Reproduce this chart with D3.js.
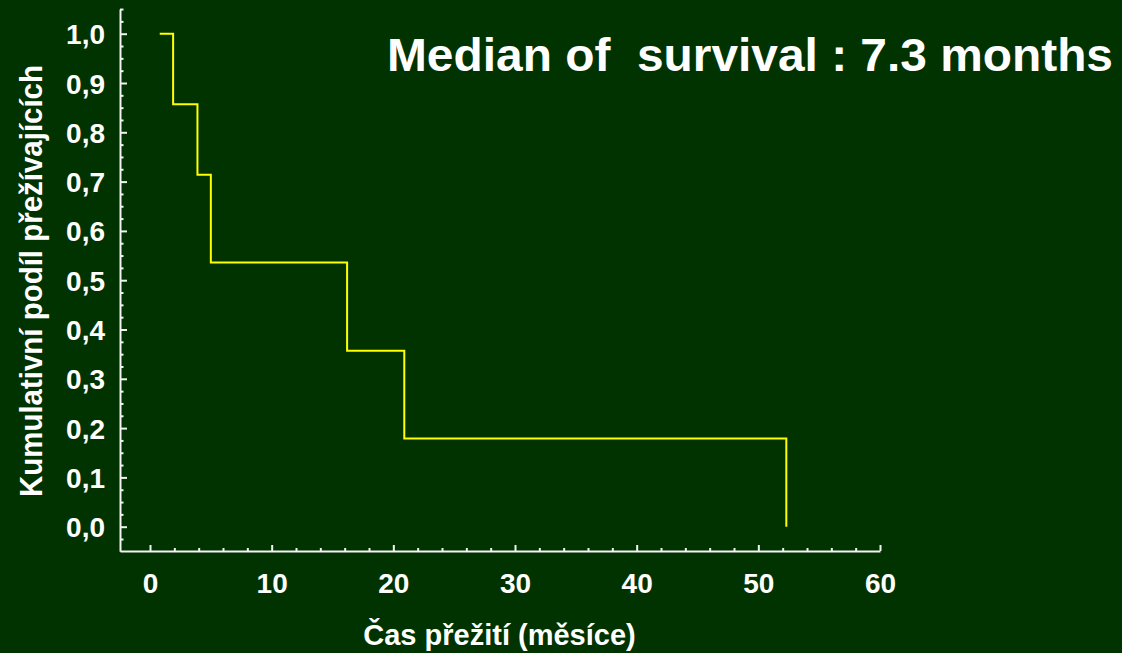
<!DOCTYPE html>
<html>
<head>
<meta charset="utf-8">
<script src="https://cdn.jsdelivr.net/npm/d3@7"></script>
<style>
  html, body { margin: 0; padding: 0; background: #003300; }
  svg { display: block; }
  text { font-family: "Liberation Sans", Arial, sans-serif; font-weight: bold; fill: #ffffff; }
</style>
</head>
<body>
<svg id="chart" width="1122" height="653"></svg>
<script>
// Kaplan–Meier survival estimate: event times (months) and cumulative survival after each step
const times = [0.8, 1.9, 3.9, 5.0, 16.2, 20.9, 52.3];
const survival = [1.0, 0.857, 0.714, 0.536, 0.357, 0.179, 0.0];

const xTicks = [0, 10, 20, 30, 40, 50, 60];
const yTicks = [0.0, 0.1, 0.2, 0.3, 0.4, 0.5, 0.6, 0.7, 0.8, 0.9, 1.0];

const titleText = "Median of  survival : 7.3 months";
const xTitle = "Čas přežití (měsíce)";
const yTitle = "Kumulativní podíl přežívajících";

const svg = d3.select("#chart");
const W = 1122, H = 653;
svg.append("rect").attr("width", W).attr("height", H).attr("fill", "#003300");

const x = d3.scaleLinear().domain([-2.466, 60]).range([120, 880]);
const y = d3.scaleLinear().domain([-0.05, 1.05]).range([551.35, 9.05]);

const axisColor = "#f2f2f2";
const fmtY = v => d3.format(".1f")(v).replace(".", ",");
const labelFont = 28;

// minor ticks on y (every 0.025)
const yMinor = d3.range(-0.025, 1.051, 0.025).filter(v => Math.abs(Math.round(v * 10) - v * 10) > 1e-6);
svg.append("g")
  .attr("transform", "translate(120,0)")
  .call(d3.axisLeft(y).tickValues(yMinor).tickSize(-3.5).tickSizeOuter(0).tickFormat(""))
  .call(g => g.select(".domain").remove())
  .call(g => g.selectAll("line").attr("stroke", axisColor).attr("stroke-width", 2));

// major y axis
svg.append("g")
  .attr("transform", "translate(120,0)")
  .call(d3.axisLeft(y).tickValues(yTicks).tickSize(-7).tickSizeOuter(0).tickPadding(15).tickFormat(fmtY))
  .call(g => g.select(".domain").attr("stroke", axisColor).attr("stroke-width", 2))
  .call(g => g.selectAll("line").attr("stroke", axisColor).attr("stroke-width", 2))
  .call(g => g.selectAll("text").attr("fill", "#ffffff").attr("font-size", labelFont)
        .attr("font-family", "Liberation Sans, Arial, sans-serif").attr("font-weight", "bold").attr("dy", "0.36em"));

// minor ticks on x (every 2)
const xMinor = d3.range(2, 60, 2).filter(v => v % 10 !== 0);
svg.append("g")
  .attr("transform", "translate(0,551)")
  .call(d3.axisBottom(x).tickValues(xMinor).tickSize(-3).tickSizeOuter(0).tickFormat(""))
  .call(g => g.select(".domain").remove())
  .call(g => g.selectAll("line").attr("stroke", axisColor).attr("stroke-width", 2));

// major x axis
svg.append("g")
  .attr("transform", "translate(0,551)")
  .call(d3.axisBottom(x).tickValues(xTicks).tickSize(-6).tickSizeOuter(0).tickPadding(22).tickFormat(d3.format("d")))
  .call(g => g.select(".domain").attr("stroke", axisColor).attr("stroke-width", 2))
  .call(g => g.selectAll("line").attr("stroke", axisColor).attr("stroke-width", 2))
  .call(g => g.selectAll("text").attr("fill", "#ffffff").attr("font-size", labelFont)
        .attr("font-family", "Liberation Sans, Arial, sans-serif").attr("font-weight", "bold"));

// survival step curve
const pts = times.map((t, i) => [t, survival[i]]);
const line = d3.line().x(d => x(d[0])).y(d => y(d[1])).curve(d3.curveStepAfter);
svg.append("path")
  .datum(pts)
  .attr("d", line)
  .attr("fill", "none")
  .attr("stroke", "#ffff00")
  .attr("stroke-width", 2);

// titles
svg.append("text")
  .attr("x", 387).attr("y", 71)
  .attr("font-size", 47)
  .style("white-space", "pre")
  .attr("xml:space", "preserve")
  .attr("textLength", 726).attr("lengthAdjust", "spacingAndGlyphs")
  .text(titleText);

svg.append("text")
  .attr("x", 499.5).attr("y", 645)
  .attr("text-anchor", "middle")
  .attr("font-size", 29)
  .text(xTitle);

svg.append("text")
  .attr("transform", "translate(41.5,281) rotate(-90)")
  .attr("text-anchor", "middle")
  .attr("font-size", 31)
  .attr("textLength", 432).attr("lengthAdjust", "spacingAndGlyphs")
  .text(yTitle);
</script>
</body>
</html>
